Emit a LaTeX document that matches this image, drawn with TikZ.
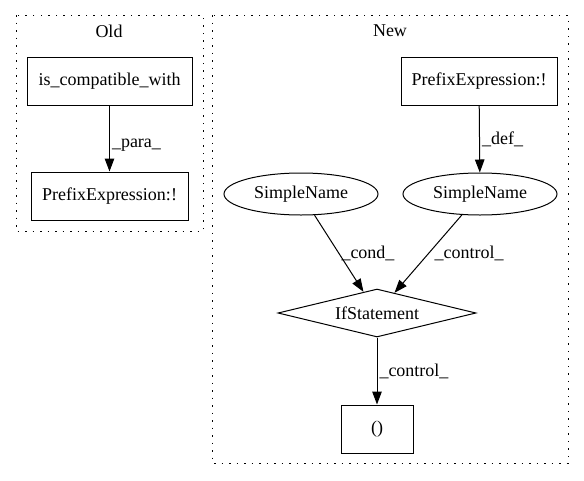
\documentclass[tikz,border=0pt]{standalone}
\usepackage{fontspec}
\setmainfont{Liberation Serif}
\usetikzlibrary{shapes.geometric,arrows.meta}

\tikzset{
    every node/.style={font=\fontsize{18}{20}\selectfont},
    cluster/.style={line width=1pt,dash pattern=on 1.5pt off 6pt},
    box/.style={draw,rectangle,line width=1pt,inner sep=0pt,minimum height=48pt},
    oval/.style={draw,ellipse,line width=1pt,inner sep=0pt,minimum width=154pt,minimum height=42pt},
    cond/.style={draw,diamond,line width=1pt,inner sep=0pt,aspect=4.1,minimum width=198pt,minimum height=48pt},
    flow/.style={line width=1pt,-{Triangle[length=13pt,width=9.5pt]}},
    lbl/.style={midway,right,inner sep=2pt}
}

\begin{document}
\begin{tikzpicture}[x=1pt,y=-1pt]
    \useasboundingbox (0,0) rectangle (584,480);

    % clusters
    \draw [cluster] (16,15) rectangle (203,231);
    \node (oldlabel) at (109,31) {Old};
    \draw [cluster] (212,15) rectangle (568,463);
    \node (newlabel) at (390,31) {New};

    % old side
    \node[box,minimum width=165pt] (compat) at (109.5,81) {is\_compatible\_with};
    \node[box,minimum width=157pt] (prefixold) at (109.5,196) {PrefixExpression:!};

    \draw [flow] (compat)
        -- (prefixold) node [lbl,pos=0.6] {\_para\_};

    % new side
    \node[box,minimum width=156pt] (prefixnew) at (479,81) {PrefixExpression:!};
    \node[oval] (nameleft) at (301,194) {SimpleName};
    \node[oval] (nameright) at (480,194) {SimpleName};
    \node[cond] (ifstmt) at (377,313) {IfStatement};
    \node[box,minimum width=72pt] (call) at (377,429) {()};

    \draw [flow] (prefixnew)
        -- (nameright) node [lbl] {\_def\_};
    \draw [flow] (nameleft)
        -- (ifstmt) node [lbl] {\_cond\_};
    \draw [flow] (nameright)
        -- (ifstmt) node [lbl,inner sep=6pt] {\_control\_};
    \draw [flow] (ifstmt)
        -- (call) node [lbl] {\_control\_};
\end{tikzpicture}
\end{document}
